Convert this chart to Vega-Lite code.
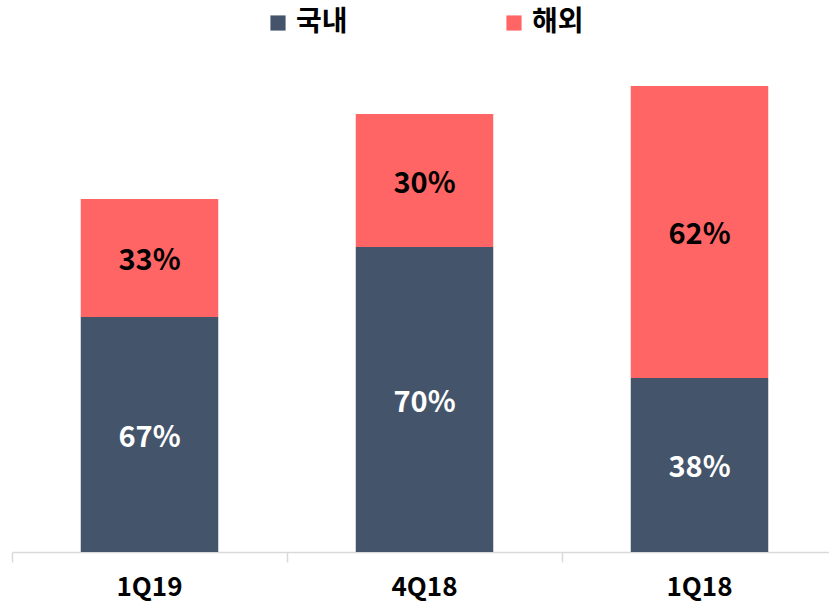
{
  "$schema": "https://vega.github.io/schema/vega-lite/v6.json",
  "autosize": {"type": "none"},
  "width": 817,
  "height": 500,
  "padding": {"left": 12, "top": 52, "right": 0, "bottom": 56},
  "config": {"view": {"stroke": null}, "font": "Noto Sans CJK KR"},
  "data": {
    "values": [
      {"quarter": "1Q19", "region": "국내", "value": 235, "label": "67%"},
      {"quarter": "1Q19", "region": "해외", "value": 118, "label": "33%"},
      {"quarter": "4Q18", "region": "국내", "value": 305, "label": "70%"},
      {"quarter": "4Q18", "region": "해외", "value": 133, "label": "30%"},
      {"quarter": "1Q18", "region": "국내", "value": 174, "label": "38%"},
      {"quarter": "1Q18", "region": "해외", "value": 292, "label": "62%"}
    ]
  },
  "transform": [
    {"calculate": "datum.region === '국내' ? 0 : 1", "as": "ord"},
    {"stack": "value", "groupby": ["quarter"], "sort": [{"field": "ord", "order": "ascending"}], "as": ["v0", "v1"]},
    {"calculate": "(datum.v0 + datum.v1) / 2", "as": "mid"}
  ],
  "encoding": {
    "x": {
      "field": "quarter",
      "type": "nominal",
      "sort": ["1Q19", "4Q18", "1Q18"],
      "scale": {"range": [0, 825], "paddingInner": 0.5, "paddingOuter": 0.25},
      "axis": {
        "title": null,
        "labelAngle": 0,
        "bandPosition": -0.5,
        "labelFontSize": 26,
        "labelFontWeight": "bold",
        "labelColor": "#000000",
        "labelPadding": 12,
        "tickSize": 10,
        "tickColor": "#D9D9D9",
        "tickWidth": 1.5,
        "domainColor": "#D9D9D9",
        "domainWidth": 1.5
      }
    }
  },
  "layer": [
    {
      "mark": {"type": "bar"},
      "encoding": {
        "y": {"field": "v0", "type": "quantitative", "scale": {"domain": [0, 500]}, "axis": null},
        "y2": {"field": "v1"},
        "color": {
          "field": "region",
          "type": "nominal",
          "scale": {"domain": ["국내", "해외"], "range": ["#44546A", "#FF6565"]},
          "legend": {
            "title": null,
            "orient": "none",
            "legendX": 252,
            "legendY": -43,
            "direction": "horizontal",
            "symbolType": "square",
            "symbolSize": 230,
            "symbolStrokeWidth": 0,
            "labelFontSize": 28,
            "labelFontWeight": "bold",
            "labelColor": "#000000",
            "labelOffset": 4,
            "columnPadding": 152
          }
        }
      }
    },
    {
      "mark": {"type": "text", "fontSize": 29, "fontWeight": "bold", "baseline": "middle", "dy": 3},
      "encoding": {
        "y": {"field": "mid", "type": "quantitative", "scale": {"domain": [0, 500]}},
        "text": {"field": "label"},
        "color": {
          "condition": {"test": "datum.region === '국내'", "value": "#FFFFFF"},
          "value": "#000000"
        }
      }
    }
  ]
}
